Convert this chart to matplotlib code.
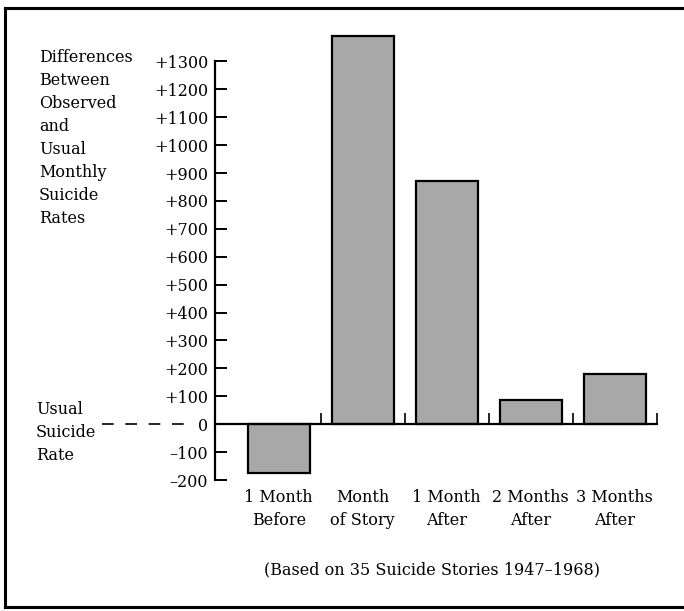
import matplotlib.pyplot as plt
from matplotlib.lines import Line2D

# values (difference from usual monthly suicide rate)
months = ["1 Month\nBefore", "Month\nof Story", "1 Month\nAfter", "2 Months\nAfter", "3 Months\nAfter"]
differences = [-175, 1390, 872, 85, 180]
yticks = [-200, -100, 0, 100, 200, 300, 400, 500, 600, 700, 800, 900, 1000, 1100, 1200, 1300]
ylabels = ["\u2013200", "\u2013100", "0"] + ["+%d" % v for v in yticks[3:]]

plt.rcParams['font.family'] = ['DejaVu Serif']
plt.rcParams['font.size'] = 11.5

fig = plt.figure(figsize=(6.84, 6.11), dpi=100)
ax = fig.add_axes([0.3143, 0.2144, 0.652, 0.7352])

x = list(range(len(months)))
ax.bar(x, differences, width=0.74, color='#a8a8a8', edgecolor='black', linewidth=1.6, zorder=2)

ax.set_xlim(-0.76, 4.55)
ax.set_ylim(-200, 1410)

for s in ['top', 'right']:
    ax.spines[s].set_visible(False)
ax.spines['left'].set_bounds(-200, 1300)
ax.spines['left'].set_linewidth(1.6)
ax.spines['bottom'].set_position(('data', 0))
ax.spines['bottom'].set_bounds(-0.76, 4.5)
ax.spines['bottom'].set_linewidth(1.6)
ax.spines['bottom'].set_zorder(3)

ax.set_yticks(yticks)
ax.set_yticklabels(ylabels)
ax.tick_params(axis='y', direction='in', length=8.5, width=1.4, pad=5, labelsize=11.5)

ax.set_xticks(x)
ax.set_xticklabels(months, linespacing=1.45)
ax.set_xticks([0.5, 1.5, 2.5, 3.5, 4.5], minor=True)
ax.tick_params(axis='x', which='major', length=0, pad=47, labelsize=11.5)
ax.tick_params(axis='x', which='minor', direction='in', length=8, width=1.2)

# dashed "usual rate" line running out to the left label
ax.plot([-2.1, -1.08], [0, 0], color='black', linewidth=1.2, dashes=(7, 7), clip_on=False)

fig.text(39 / 684, 1 - 49 / 611, "Differences\nBetween\nObserved\nand\nUsual\nMonthly\nSuicide\nRates",
         ha='left', va='top', linespacing=1.46)
fig.text(36 / 684, 1 - 401 / 611, "Usual\nSuicide\nRate", ha='left', va='top', linespacing=1.46)
fig.text(432 / 684, 1 - 570 / 611, "(Based on 35 Suicide Stories 1947\u20131968)", ha='center', va='center')

# frame around the figure
fig.add_artist(Line2D([5 / 684, 5 / 684], [1 - 607 / 611, 1 - 7.5 / 611], transform=fig.transFigure, color='black', linewidth=2.2))
fig.add_artist(Line2D([5 / 684, 1], [1 - 7.5 / 611, 1 - 7.5 / 611], transform=fig.transFigure, color='black', linewidth=2.2))
fig.add_artist(Line2D([5 / 684, 1], [1 - 607 / 611, 1 - 607 / 611], transform=fig.transFigure, color='black', linewidth=2.2))

fig.savefig("out.png", dpi=100)
